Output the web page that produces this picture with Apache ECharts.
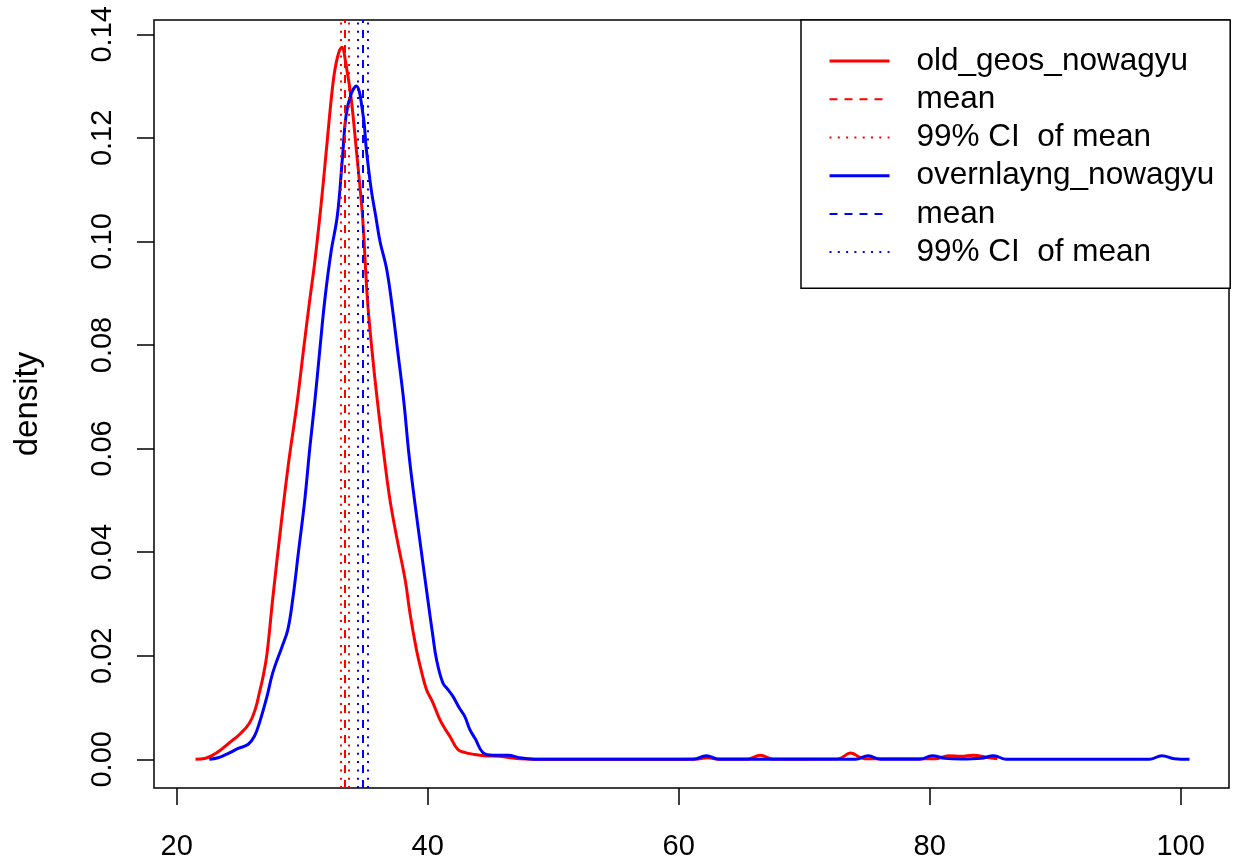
<!DOCTYPE html>
<html>
<head>
<meta charset="utf-8">
<script src="https://cdn.jsdelivr.net/npm/echarts@6/dist/echarts.min.js"></script>
<style>html,body{margin:0;padding:0;background:#fff}#c{width:1235px;height:862px}</style>
</head>
<body>
<div id="c"></div>
<script>
// ---- data ----
var redName = 'old_geos_nowagyu';
var blueName = 'overnlayng_nowagyu';
var redX = [21.5,22.3,22.8,23.5,24.2,25.0,25.8,26.3,26.6,26.9,27.2,27.65,28.3,28.9,29.6,30.1,30.6,31.0,31.5,31.9,32.45,32.8,33.15,33.5,33.9,34.3,34.8,35.2,35.6,36.0,36.5,37.0,37.6,38.2,38.6,39.1,39.5,39.9,40.4,40.96,41.4,41.75,42.4,43.0,43.6,44.5,45.7,47.3,48.5,60.0,61.5,62.3,63.2,65.5,66.5,67.5,72.7,73.7,74.8,80.5,81.5,82.5,83.5,84.5,85.4];
var redY = [0,0.0002,0.0007,0.0018,0.0032,0.0048,0.0070,0.0100,0.0130,0.0162,0.0205,0.0310,0.0450,0.0570,0.0690,0.0790,0.0887,0.0960,0.1070,0.1170,0.1305,0.1355,0.1375,0.1340,0.1276,0.1180,0.1050,0.0887,0.0780,0.0690,0.0590,0.0500,0.0420,0.0347,0.0280,0.0212,0.0170,0.0135,0.0110,0.0077,0.0058,0.0045,0.0019,0.0013,0.0010,0.0007,0.0006,0.0001,0.00002,0.00002,0.00005,0.0003,0.00005,0.00005,0.0008,0.00005,0.0001,0.0012,0.0001,0.0001,0.0007,0.0006,0.0008,0.0004,0.0001];
var blueX = [22.6,23.3,24.0,24.9,25.7,26.2,26.6,27.2,27.65,28.4,28.85,29.25,29.7,30.2,30.6,31.0,31.4,31.8,32.3,32.8,33.2,33.5,33.9,34.3,34.85,35.1,35.5,35.85,36.2,36.7,37.1,37.6,38.1,38.5,38.95,39.5,40.0,40.4,40.7,41.2,41.6,42.0,42.5,42.95,43.35,43.8,44.4,45.2,45.8,46.4,47.3,48.5,61.2,62.2,63.2,74.1,75.1,76.1,79.2,80.2,81.2,82.5,84.1,85.1,86.1,97.5,98.5,99.5,100.7];
var blueY = [0,0.0003,0.0010,0.0021,0.0029,0.0045,0.0071,0.0122,0.0167,0.0218,0.0250,0.0310,0.0400,0.0500,0.0600,0.0690,0.0790,0.0887,0.0980,0.1050,0.1160,0.1244,0.1285,0.1300,0.1244,0.1180,0.1100,0.1050,0.1000,0.0950,0.0887,0.0790,0.0690,0.0590,0.0500,0.0400,0.0310,0.0240,0.0193,0.0148,0.0135,0.0122,0.0100,0.0083,0.0058,0.0039,0.0013,0.0008,0.0008,0.0008,0.0003,0.00003,0,0.0007,0,0,0.0007,0,0,0.0007,0.0002,0.00005,0.0002,0.0007,0,0,0.0007,0.0001,0];
var redMean = 33.39, redCI = [33.04, 33.73];
var blueMean = 34.85, blueCI = [34.45, 35.20];
var xTicks = [20, 40, 60, 80, 100];
var yTicks = [0, 0.02, 0.04, 0.06, 0.08, 0.10, 0.12, 0.14];
var yTitle = 'density';
var ciName = '99% CI  of mean';
var meanName = 'mean';

function pairs(xs, ys) { return xs.map(function (x, i) { return [x, ys[i]]; }); }

var FONT = '"Liberation Sans", Arial, Helvetica, sans-serif';
var DASH = [8, 7], DOT = [2, 6.3];

function vline(name, color, type, values) {
  return {
    name: name, type: 'line', data: [], symbol: 'none',
    lineStyle: { color: color, type: type, width: 2 },
    itemStyle: { color: color },
    markLine: {
      silent: true, symbol: 'none', animation: false,
      label: { show: false },
      lineStyle: { color: color, type: type, width: 2 },
      data: values.map(function (v) { return { xAxis: v }; })
    }
  };
}

var chart = echarts.init(document.getElementById('c'), null, { renderer: 'canvas' });
chart.setOption({
  animation: false,
  backgroundColor: '#fff',
  textStyle: { fontFamily: FONT, color: '#000' },
  grid: { left: 154, right: 6, top: 20, bottom: 74, show: true, borderColor: '#000', borderWidth: 1.5, backgroundColor: 'transparent' },
  xAxis: {
    type: 'value', min: 18.19, max: 103.85,
    splitLine: { show: false },
    axisLine: { show: false, onZero: false },
    axisTick: { show: true, inside: false, length: 17, customValues: xTicks, lineStyle: { color: '#000', width: 1.5 } },
    axisLabel: { customValues: xTicks, margin: 44, fontSize: 29, color: '#000', fontFamily: FONT,
      formatter: function (v) { return String(Math.round(v)); } }
  },
  yAxis: {
    type: 'value', min: -0.00554, max: 0.14276,
    name: yTitle, nameLocation: 'middle', nameRotate: 90, nameGap: 110,
    nameTextStyle: { fontSize: 33, color: '#000', fontFamily: FONT },
    splitLine: { show: false },
    axisLine: { show: false, onZero: false },
    axisTick: { show: true, inside: false, length: 17, customValues: yTicks, lineStyle: { color: '#000', width: 1.5 } },
    axisLabel: { customValues: yTicks, rotate: 90, margin: 37, fontSize: 29, color: '#000', fontFamily: FONT,
      formatter: function (v) { return (Math.round(v * 100) / 100).toFixed(2); } }
  },
  legend: {
    orient: 'vertical', left: 801, top: 20,
    padding: [22, 16, 17, 27],
    itemWidth: 60, itemHeight: 38.2, itemGap: 0,
    backgroundColor: '#fff', borderColor: '#000', borderWidth: 1.5, borderRadius: 0,
    selectedMode: false,
    itemStyle: { opacity: 0 },
    textStyle: { fontSize: 31.5, lineHeight: 38.2, color: '#000', fontFamily: FONT, padding: [0, 0, 0, 22] },
    data: [
      { name: redName, lineStyle: { width: 3 } },
      { name: meanName, lineStyle: { width: 2 } },
      { name: ciName, lineStyle: { width: 2 } },
      { name: blueName, lineStyle: { width: 3 } },
      { name: meanName + ' ', lineStyle: { width: 2 } },
      { name: ciName + ' ', lineStyle: { width: 2 } }
    ]
  },
  series: [
    { name: redName, type: 'line', data: pairs(redX, redY), symbol: 'none', smooth: 0.4,
      lineStyle: { color: '#ff0000', width: 3 }, itemStyle: { color: '#ff0000' }, z: 3 },
    { name: blueName, type: 'line', data: pairs(blueX, blueY), symbol: 'none', smooth: 0.4,
      lineStyle: { color: '#0000ff', width: 3 }, itemStyle: { color: '#0000ff' }, z: 4 },
    vline(meanName, '#ff0000', DASH, [redMean]),
    vline(ciName, '#ff0000', DOT, redCI),
    vline(meanName + ' ', '#0000ff', DASH, [blueMean]),
    vline(ciName + ' ', '#0000ff', DOT, blueCI)
  ]
});
</script>
</body>
</html>
